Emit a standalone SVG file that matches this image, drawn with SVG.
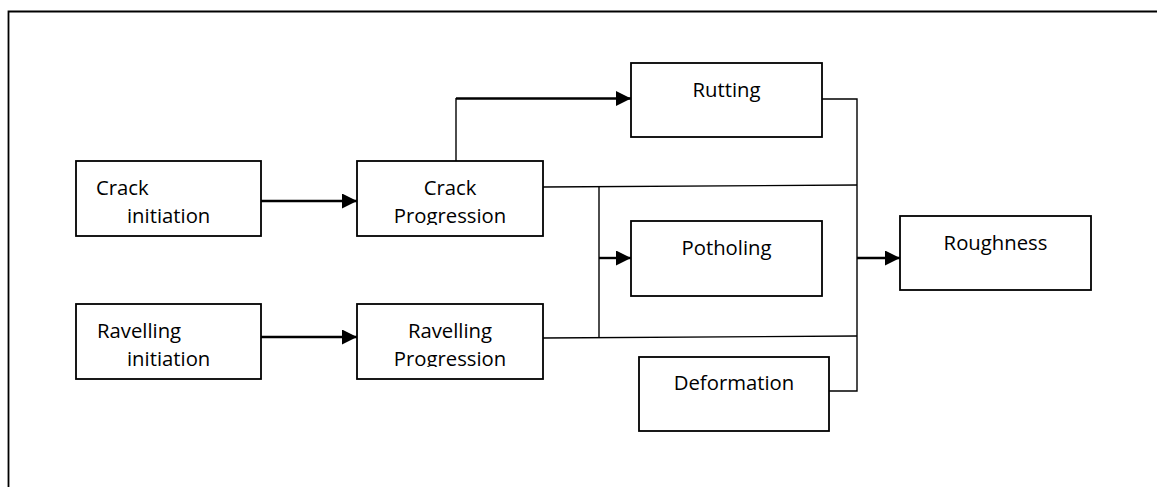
<svg xmlns="http://www.w3.org/2000/svg" width="1157" height="487" viewBox="0 0 1157 487">
<style>
.box{fill:#fff;stroke:#000;stroke-width:1.8}
.t{font-family:"Open Sans","Noto Sans",sans-serif;font-size:20.3px;fill:#000}
.c{text-anchor:middle}
.thin{fill:none;stroke:#000;stroke-width:1.4}
.thick{fill:none;stroke:#000;stroke-width:2.4}
</style>
<defs>
<marker id="ah" markerUnits="userSpaceOnUse" markerWidth="16" markerHeight="16" refX="15" refY="7.5" orient="auto">
<path d="M0,0 L15,7.5 L0,15 Z" fill="#000"/>
</marker>
<clipPath id="cp1"><rect x="357" y="161" width="186" height="64"/></clipPath>
<clipPath id="cp2"><rect x="357" y="304" width="186" height="63"/></clipPath>
</defs>
<rect x="0" y="0" width="1157" height="487" fill="#fff"/>
<path d="M8.5,487 L8.5,11.5 L1157,11.5" fill="none" stroke="#000" stroke-width="1.8"/>
<g id="connectors">
<line class="thick" x1="261" y1="201" x2="357" y2="201" marker-end="url(#ah)"/>
<line class="thick" x1="261" y1="337" x2="357" y2="337" marker-end="url(#ah)"/>
<path class="thin" d="M456,161 L456,98"/>
<line class="thick" x1="456" y1="98.5" x2="631" y2="98.5" marker-end="url(#ah)"/>
<path class="thin" d="M822,99 L857,99 L857,391 L829,391"/>
<path class="thin" d="M543,187 L857,185"/>
<path class="thin" d="M543,338 L857,336"/>
<path class="thin" d="M599,187 L599,338"/>
<line class="thick" x1="599" y1="258" x2="631" y2="258" marker-end="url(#ah)"/>
<line class="thick" x1="857" y1="258" x2="900" y2="258" marker-end="url(#ah)"/>
</g>
<g id="crack-initiation">
<rect class="box" x="76" y="161" width="185" height="75"/>
<text class="t" x="96" y="195">Crack</text>
<text class="t" x="127" y="223">initiation</text>
</g>
<g id="crack-progression">
<rect class="box" x="357" y="161" width="186" height="75"/>
<text class="t c" x="450" y="195">Crack</text>
<text class="t c" x="450" y="223" clip-path="url(#cp1)">Progression</text>
</g>
<g id="ravelling-initiation">
<rect class="box" x="76" y="304" width="185" height="75"/>
<text class="t" x="97" y="338">Ravelling</text>
<text class="t" x="127" y="366">initiation</text>
</g>
<g id="ravelling-progression">
<rect class="box" x="357" y="304" width="186" height="75"/>
<text class="t c" x="450" y="338">Ravelling</text>
<text class="t c" x="450" y="366" clip-path="url(#cp2)">Progression</text>
</g>
<g id="rutting">
<rect class="box" x="631" y="63" width="191" height="74"/>
<text class="t c" x="726.5" y="97">Rutting</text>
</g>
<g id="potholing">
<rect class="box" x="631" y="221" width="191" height="75"/>
<text class="t c" x="726.5" y="255">Potholing</text>
</g>
<g id="deformation">
<rect class="box" x="639" y="357" width="190" height="74"/>
<text class="t c" x="734" y="390">Deformation</text>
</g>
<g id="roughness">
<rect class="box" x="900" y="216" width="191" height="74"/>
<text class="t c" x="995.5" y="250">Roughness</text>
</g>
</svg>
